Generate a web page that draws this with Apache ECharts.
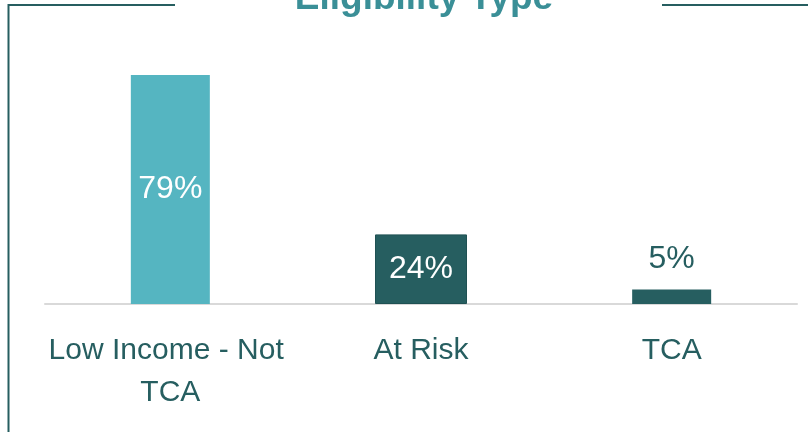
<!DOCTYPE html>
<html>
<head>
<meta charset="utf-8">
<script src="https://cdn.jsdelivr.net/npm/echarts@6/dist/echarts.min.js"></script>
<style>
html,body{margin:0;padding:0;background:#fff;}
#c{width:808px;height:432px;}
</style>
</head>
<body>
<div id="c"></div>
<script>
var titleText = 'Eligibility Type';
var categories = ['Low Income - Not TCA', 'At Risk', 'TCA'];
var values = [79, 24, 5];
var emphasisIndex = 1;

var FONT = '"Liberation Sans Narrow", "Liberation Sans", Arial, sans-serif';
var LIGHT = '#55b5c1';
var DARK = '#265e60';

var barColors = [LIGHT, DARK, DARK];
var labelPos = ['inside', 'inside', 'top'];
var labelColors = ['#ffffff', '#ffffff', DARK];

function makeItem(v, i) {
  return {
    value: v,
    itemStyle: { color: barColors[i] },
    label: { position: labelPos[i], color: labelColors[i] }
  };
}

var mainData = values.map(function (v, i) {
  return i === emphasisIndex ? '-' : makeItem(v, i);
});
var wideData = values.map(function (v, i) {
  if (i !== emphasisIndex) return '-';
  var it = makeItem(v, i);
  it.itemStyle.borderColor = '#1f5153';
  it.itemStyle.borderWidth = 1;
  return it;
});

var labelCommon = {
  show: true,
  formatter: '{c}%',
  fontFamily: FONT,
  fontSize: 32,
  lineHeight: 32,
  distance: 14
};

var chart = echarts.init(document.getElementById('c'));
chart.setOption({
  animation: false,
  backgroundColor: '#ffffff',
  graphic: [
    {
      type: 'polyline',
      shape: { points: [[175, 5], [8.5, 5], [8.5, 432]] },
      style: { stroke: DARK, lineWidth: 2, fill: null }
    },
    {
      type: 'line',
      shape: { x1: 662, y1: 5, x2: 808, y2: 5 },
      style: { stroke: DARK, lineWidth: 2 }
    },
    {
      type: 'text',
      x: 424,
      y: 17,
      style: {
        text: titleText,
        align: 'center',
        verticalAlign: 'bottom',
        fontFamily: FONT,
        fontSize: 37,
        lineHeight: 37,
        fontWeight: 'bold',
        fill: '#3a8f97'
      }
    }
  ],
  grid: { left: 45, right: 11, top: 14, bottom: 128, containLabel: false },
  xAxis: [{
    type: 'category',
    data: categories,
    axisLine: { show: true, lineStyle: { color: '#d9d9d9', width: 2 } },
    axisTick: { show: false },
    axisLabel: {
      interval: 0,
      margin: 26,
      color: DARK,
      fontFamily: FONT,
      fontSize: 30,
      lineHeight: 42,
      width: 260,
      overflow: 'break'
    }
  }, {
    type: 'category',
    data: categories,
    show: false
  }],
  yAxis: {
    type: 'value',
    min: 0,
    max: 100,
    show: false,
    splitLine: { show: false }
  },
  series: [{
    type: 'bar',
    xAxisIndex: 0,
    data: mainData,
    barWidth: 79,
    label: labelCommon
  }, {
    type: 'bar',
    xAxisIndex: 1,
    data: wideData,
    barWidth: 92,
    label: labelCommon
  }]
});
</script>
</body>
</html>
